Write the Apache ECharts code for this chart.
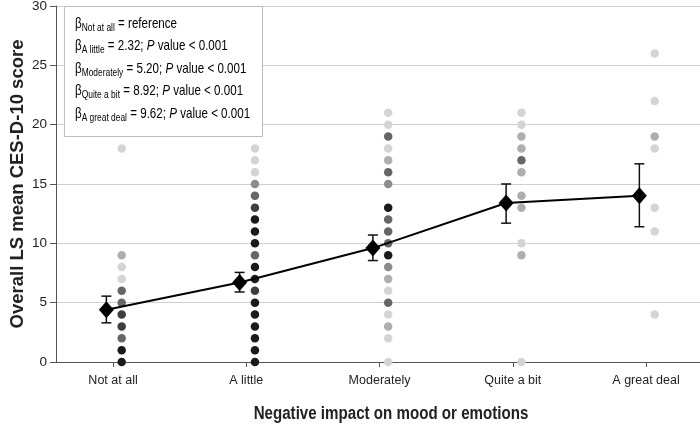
<!DOCTYPE html>
<html>
<head>
<meta charset="utf-8">
<script src="https://cdn.jsdelivr.net/npm/echarts@6/dist/echarts.min.js"></script>
<style>html,body{margin:0;padding:0;background:#fff}#c{width:700px;height:434px}</style>
</head>
<body>
<div id="c"></div>
<script>
var categories = ['Not at all', 'A little', 'Moderately', 'Quite a bit', 'A great deal'];
var lsMean = [4.4, 6.7, 9.6, 13.4, 14.0];
var ciLow = [3.3, 5.9, 8.55, 11.7, 11.4];
var ciHigh = [5.55, 7.55, 10.7, 15.0, 16.7];

// individual scores per category and their shade tier (1 = lightest, 6 = darkest)
var scoresNotAtAll = [0, 1, 2, 3, 4, 5, 6, 7, 8, 9, 18];
var shadeNotAtAll = [6, 6, 4, 5, 5, 4, 4, 1, 1, 2, 1];
var scoresALittle = [0, 1, 2, 3, 4, 5, 6, 7, 8, 9, 10, 11, 12, 13, 14, 15, 16, 17, 18];
var shadeALittle = [6, 6, 6, 6, 6, 6, 5, 6, 6, 4, 6, 6, 6, 5, 4, 3, 1, 1, 1];
var scoresModerately = [0, 2, 3, 4, 5, 6, 7, 8, 9, 10, 11, 12, 13, 15, 16, 17, 18, 19, 20, 21];
var shadeModerately = [1, 1, 2, 1, 4, 1, 2, 3, 6, 4, 4, 4, 6, 3, 4, 2, 1, 4, 1, 1];
var scoresQuiteABit = [0, 9, 10, 13, 14, 16, 17, 18, 19, 20, 21];
var shadeQuiteABit = [1, 2, 1, 2, 2, 2, 4, 2, 2, 1, 1];
var scoresGreatDeal = [4, 11, 13, 18, 19, 22, 26];
var shadeGreatDeal = [1, 1, 1, 1, 2, 1, 1];

var yTicks = [0, 5, 10, 15, 20, 25, 30];
var xTitle = 'Negative impact on mood or emotions';
var yTitle = 'Overall LS mean CES-D-10 score';

var shadeColors = {1: '#d4d4d4', 2: '#aeaeae', 3: '#8c8c8c', 4: '#666666', 5: '#3e3e3e', 6: '#1a1a1a'};
var allScores = [scoresNotAtAll, scoresALittle, scoresModerately, scoresQuiteABit, scoresGreatDeal];
var allShades = [shadeNotAtAll, shadeALittle, shadeModerately, shadeQuiteABit, shadeGreatDeal];

var dotOffset = 0.065, meanOffset = -0.05;
var dotData = [];
allScores.forEach(function (arr, ci) {
  arr.forEach(function (v, j) {
    dotData.push({value: [ci + 1 + dotOffset, v], itemStyle: {color: shadeColors[allShades[ci][j]]}});
  });
});
var meanData = lsMean.map(function (m, i) { return [i + 1 + meanOffset, m]; });
var errData = lsMean.map(function (m, i) { return [i + 1 + meanOffset, ciLow[i], ciHigh[i]]; });

var FONT = '"Liberation Sans", Arial, Helvetica, sans-serif';

var chart = echarts.init(document.getElementById('c'), null, {renderer: 'canvas'});

function legendLine(sub, rest) {
  return '{b|β}{s|' + sub + '}' + rest;
}
var legendLines = [
  legendLine('Not at all', '{n| = reference}'),
  legendLine('A little', '{n| = 2.32; }{i|P}{n| value < 0.001}'),
  legendLine('Moderately', '{n| = 5.20; }{i|P}{n| value < 0.001}'),
  legendLine('Quite a bit', '{n| = 8.92; }{i|P}{n| value < 0.001}'),
  legendLine('A great deal', '{n| = 9.62; }{i|P}{n| value < 0.001}')
];
var rich = {
  b: {fontSize: 14.5, fontFamily: FONT, color: '#222', lineHeight: 16, verticalAlign: 'bottom'},
  s: {fontSize: 10.5, fontFamily: FONT, color: '#222', lineHeight: 12, verticalAlign: 'bottom', padding: [0, 0, -3, 0]},
  n: {fontSize: 14.5, fontFamily: FONT, color: '#222', lineHeight: 16, verticalAlign: 'bottom'},
  i: {fontSize: 14.5, fontFamily: FONT, color: '#222', lineHeight: 16, fontStyle: 'italic', verticalAlign: 'bottom'}
};
var legendY = [23, 45, 68, 90, 113];
var graphics = [{
  type: 'rect', z: 10, shape: {x: 64.5, y: 6.5, width: 198, height: 130},
  style: {fill: '#fff', stroke: '#bdbdbd', lineWidth: 1}
}];
legendLines.forEach(function (t, i) {
  graphics.push({
    type: 'text', z: 11, x: 75, y: legendY[i], scaleX: 0.8,
    style: {text: t, rich: rich, verticalAlign: 'middle', align: 'left'}
  });
});
graphics.push({
  type: 'text', z: 11, x: 391, y: 414, scaleX: 0.84,
  style: {text: xTitle, fontSize: 18, fontWeight: 'bold', fontFamily: FONT, fill: '#222',
          align: 'center', verticalAlign: 'middle'}
});

chart.setOption({
  animation: false,
  backgroundColor: '#fff',
  grid: {left: 56, right: 0, top: 6, bottom: 72, outerBoundsMode: 'none', containLabel: false},
  xAxis: {
    type: 'value', min: 0.572, max: 5.405,
    axisLine: {show: true, lineStyle: {color: '#555', width: 1}},
    axisTick: {show: true, customValues: [1, 2, 3, 4, 5], length: 5, lineStyle: {color: '#555'}},
    axisLabel: {
      customValues: [1, 2, 3, 4, 5], margin: 12,
      fontSize: 12.5, fontFamily: FONT, color: '#222',
      formatter: function (v) { return categories[Math.round(v) - 1] || ''; }
    },
    splitLine: {show: false}
  },
  yAxis: {
    type: 'value', min: 0, max: 30, interval: 5,
    axisLine: {show: true, lineStyle: {color: '#555', width: 1}},
    axisTick: {show: true, length: 6, lineStyle: {color: '#555'}},
    axisLabel: {
      margin: 9, fontSize: 13.5, fontFamily: FONT, color: '#222',
      formatter: function (v) { return yTicks.indexOf(v) >= 0 ? String(v) : ''; }
    },
    splitLine: {show: true, lineStyle: {color: '#cfcfcf', width: 1}},
    name: yTitle, nameLocation: 'middle', nameGap: 29, nameMoveOverlap: false,
    nameTextStyle: {fontSize: 18.5, fontWeight: 'bold', fontFamily: FONT, color: '#222'}
  },
  graphic: graphics,
  series: [
    {
      type: 'scatter', data: dotData, symbol: 'circle', symbolSize: 8.5, z: 2,
      itemStyle: {opacity: 1}, silent: true
    },
    {
      type: 'custom', z: 3, data: errData, silent: true,
      renderItem: function (params, api) {
        var x = api.value(0);
        var lo = api.coord([x, api.value(1)]);
        var hi = api.coord([x, api.value(2)]);
        var cap = 5;
        var st = {stroke: '#111', lineWidth: 1.5, fill: null};
        return {
          type: 'group', children: [
            {type: 'line', shape: {x1: lo[0], y1: lo[1], x2: hi[0], y2: hi[1]}, style: st},
            {type: 'line', shape: {x1: lo[0] - cap, y1: lo[1], x2: lo[0] + cap, y2: lo[1]}, style: st},
            {type: 'line', shape: {x1: hi[0] - cap, y1: hi[1], x2: hi[0] + cap, y2: hi[1]}, style: st}
          ]
        };
      }
    },
    {
      type: 'line', data: meanData, z: 4, symbol: 'diamond', symbolSize: [15, 17],
      lineStyle: {color: '#000', width: 2}, itemStyle: {color: '#000'}, silent: true
    }
  ]
});
</script>
</body>
</html>
